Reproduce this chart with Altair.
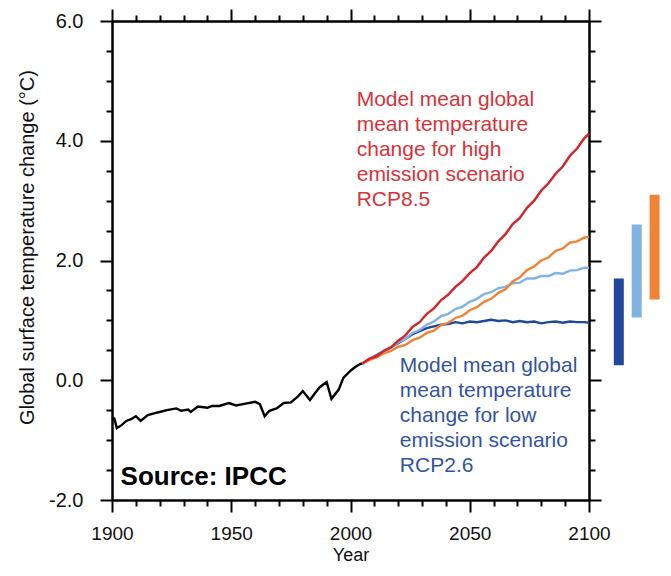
import altair as alt
import pandas as pd

FONT = "Liberation Sans"

# ---------------- data ----------------
hist_years = [1900, 1901, 1902, 1904, 1906, 1908, 1910, 1912, 1915, 1918, 1920, 1923,
              1927, 1929, 1932, 1933, 1936, 1940, 1942, 1945, 1949, 1952, 1956, 1960,
              1962, 1964, 1966, 1969, 1972, 1975, 1978, 1980, 1983, 1985, 1987, 1990,
              1992, 1995, 1997, 2000, 2002, 2004, 2005]
hist_vals = [-0.62, -0.64, -0.80, -0.75, -0.68, -0.65, -0.60, -0.68, -0.58, -0.55, -0.53, -0.50,
             -0.47, -0.51, -0.49, -0.53, -0.44, -0.46, -0.43, -0.43, -0.38, -0.42, -0.39, -0.36,
             -0.40, -0.60, -0.51, -0.47, -0.38, -0.37, -0.27, -0.18, -0.33, -0.22, -0.12, -0.03,
             -0.31, -0.16, 0.04, 0.16, 0.22, 0.27, 0.28]

scen_years = [2005, 2008, 2011, 2014, 2017, 2020, 2023, 2026, 2029, 2032, 2035,
              2038, 2041, 2044, 2047, 2050, 2053, 2056, 2059, 2062, 2065, 2068,
              2071, 2074, 2077, 2080, 2083, 2086, 2089, 2092, 2095, 2098, 2100]
rcp26 = [0.28, 0.36, 0.42, 0.49, 0.55, 0.62, 0.69, 0.77, 0.82, 0.87, 0.90,
         0.93, 0.94, 0.97, 0.95, 0.98, 0.97, 0.99, 1.01, 0.99, 1.00, 0.97,
         0.99, 0.97, 0.98, 0.95, 0.97, 0.98, 0.96, 0.98, 0.97, 0.97, 0.96]
rcp45 = [0.28, 0.36, 0.40, 0.49, 0.54, 0.63, 0.69, 0.79, 0.84, 0.93, 0.98,
         1.07, 1.11, 1.19, 1.23, 1.31, 1.36, 1.44, 1.47, 1.54, 1.56, 1.62,
         1.63, 1.70, 1.70, 1.74, 1.74, 1.79, 1.78, 1.83, 1.84, 1.88, 1.88]
rcp60 = [0.28, 0.34, 0.38, 0.45, 0.49, 0.56, 0.59, 0.67, 0.71, 0.79, 0.83,
         0.92, 0.96, 1.04, 1.08, 1.17, 1.22, 1.31, 1.36, 1.46, 1.52, 1.65,
         1.72, 1.84, 1.90, 2.00, 2.05, 2.16, 2.20, 2.30, 2.32, 2.38, 2.40]
rcp85 = [0.28, 0.36, 0.40, 0.49, 0.55, 0.66, 0.75, 0.89, 0.97, 1.11, 1.20,
         1.34, 1.43, 1.56, 1.66, 1.79, 1.89, 2.05, 2.16, 2.32, 2.44, 2.61,
         2.71, 2.88, 3.00, 3.17, 3.29, 3.45, 3.57, 3.75, 3.87, 4.04, 4.12]

range_names = ["RCP2.6", "RCP4.5", "RCP6.0", "RCP8.5"]
range_pos = [2112.5, 2120.0, 2127.5, 2135.0]
range_low = [0.25, 1.05, 1.35, 2.55]
range_high = [1.70, 2.60, 3.10, 4.80]

series_names = ["Historical", "RCP2.6", "RCP4.5", "RCP6.0", "RCP8.5"]
series_colors = ["#000000", "#21489a", "#80b3e2", "#ef8438", "#d8222a"]

x_major = [1900, 1950, 2000, 2050, 2100]
x_minor = [1910, 1920, 1930, 1940, 1960, 1970, 1980, 1990, 2010, 2020, 2030, 2040, 2060, 2070, 2080, 2090]
y_major = [-2, 0, 2, 4, 6]
y_minor = [-1.5, -1, -0.5, 0.5, 1, 1.5, 2.5, 3, 3.5, 4.5, 5, 5.5]

high_text = ["Model mean global", "mean temperature", "change for high",
             "emission scenario", "RCP8.5"]
low_text = ["Model mean global", "mean temperature", "change for low",
            "emission scenario", "RCP2.6"]
source_text = "Source: IPCC"

# ---------------- tables ----------------
rows = [{"year": y, "value": v, "series": "Historical"} for y, v in zip(hist_years, hist_vals)]
for name, vals in zip(["RCP2.6", "RCP4.5", "RCP6.0", "RCP8.5"], [rcp26, rcp45, rcp60, rcp85]):
    rows += [{"year": y, "value": v, "series": name} for y, v in zip(scen_years, vals)]
lines_df = pd.DataFrame(rows)

ranges_df = pd.DataFrame({"series": range_names, "pos": range_pos,
                          "low": range_low, "high": range_high})

high_df = pd.DataFrame({"x": [2002.6], "y": [4.87]})
low_df = pd.DataFrame({"x": [2020.7], "y": [0.43]})
src_df = pd.DataFrame({"x": [1903.6], "y": [-1.75]})

# ---------------- scales / axes ----------------
x_scale = alt.Scale(domain=[1900, 2100], nice=False, zero=False)
y_scale = alt.Scale(domain=[-2, 6], nice=False, zero=False)
color_scale = alt.Scale(domain=series_names, range=series_colors)

common = dict(domainColor="black", domainWidth=2, tickColor="black", tickWidth=2,
              grid=False, labelFont=FONT, labelColor="#111111",
              labelFlush=False, labelOverlap=False,
              titleFont=FONT, titleFontWeight="normal",
              titleColor="#111111")


def make_axis(orient, values, size, labels, title=None, **kw):
    return alt.Axis(orient=orient, values=values, tickSize=size, labels=labels,
                    title=title, **common, **kw)


lines = alt.Chart(lines_df).mark_line(strokeWidth=2.4).encode(
    x=alt.X("year:Q", scale=x_scale,
            axis=make_axis("bottom", x_major, 12, True, "Year", format="d",
                           labelFontSize=19, labelPadding=12,
                           titleFontSize=18, titleY=60, titleBaseline="alphabetic")),
    y=alt.Y("value:Q", scale=y_scale,
            axis=make_axis("left", y_major, 12, True,
                           "Global surface temperature change (°C)",
                           labelFontSize=20, labelPadding=17, titleFontSize=20,
                           labelExpr="datum.value < 0 ? '-' + format(-datum.value, '.1f') : format(datum.value, '.1f')",
                           titleX=-75, titleY=226)),
    color=alt.Color("series:N", scale=color_scale, legend=None),
    order=alt.Order("year:Q"),
)

bars = alt.Chart(ranges_df).mark_rule(strokeWidth=10, strokeCap="butt").encode(
    x=alt.X("pos:Q", scale=x_scale, axis=make_axis("bottom", x_minor, 6, False)),
    y=alt.Y("low:Q", scale=y_scale, axis=make_axis("left", y_minor, 6, False)),
    y2="high:Q",
    color=alt.Color("series:N", scale=color_scale, legend=None),
)

high = alt.Chart(high_df).mark_text(
    text=high_text, align="left", baseline="top", font=FONT, fontSize=21,
    lineHeight=25, color="#d8323a"
).encode(
    x=alt.X("x:Q", scale=x_scale, axis=make_axis("top", x_major, 12, False)),
    y=alt.Y("y:Q", scale=y_scale, axis=make_axis("right", y_major, 12, False)),
)

low = alt.Chart(low_df).mark_text(
    text=low_text, align="left", baseline="top", font=FONT, fontSize=21,
    lineHeight=25, color="#33549f"
).encode(
    x=alt.X("x:Q", scale=x_scale, axis=make_axis("top", x_minor, 6, False)),
    y=alt.Y("y:Q", scale=y_scale, axis=make_axis("right", y_minor, 6, False)),
)

source = alt.Chart(src_df).mark_text(
    text=source_text, align="left", baseline="alphabetic", font=FONT,
    fontSize=26, fontWeight="bold", color="#000000"
).encode(
    x=alt.X("x:Q", scale=x_scale, axis=None),
    y=alt.Y("y:Q", scale=y_scale, axis=None),
)

chart = alt.layer(lines, bars, high, low, source).resolve_axis(
    x="independent", y="independent"
).properties(
    width=477, height=479,
    autosize=alt.AutoSizeParams(type="none"),
    padding={"left": 104, "top": 13, "right": 74, "bottom": 64},
    background="white",
).configure_view(stroke=None)

chart.save("out.html", embed_options={"renderer": "svg", "actions": False})
